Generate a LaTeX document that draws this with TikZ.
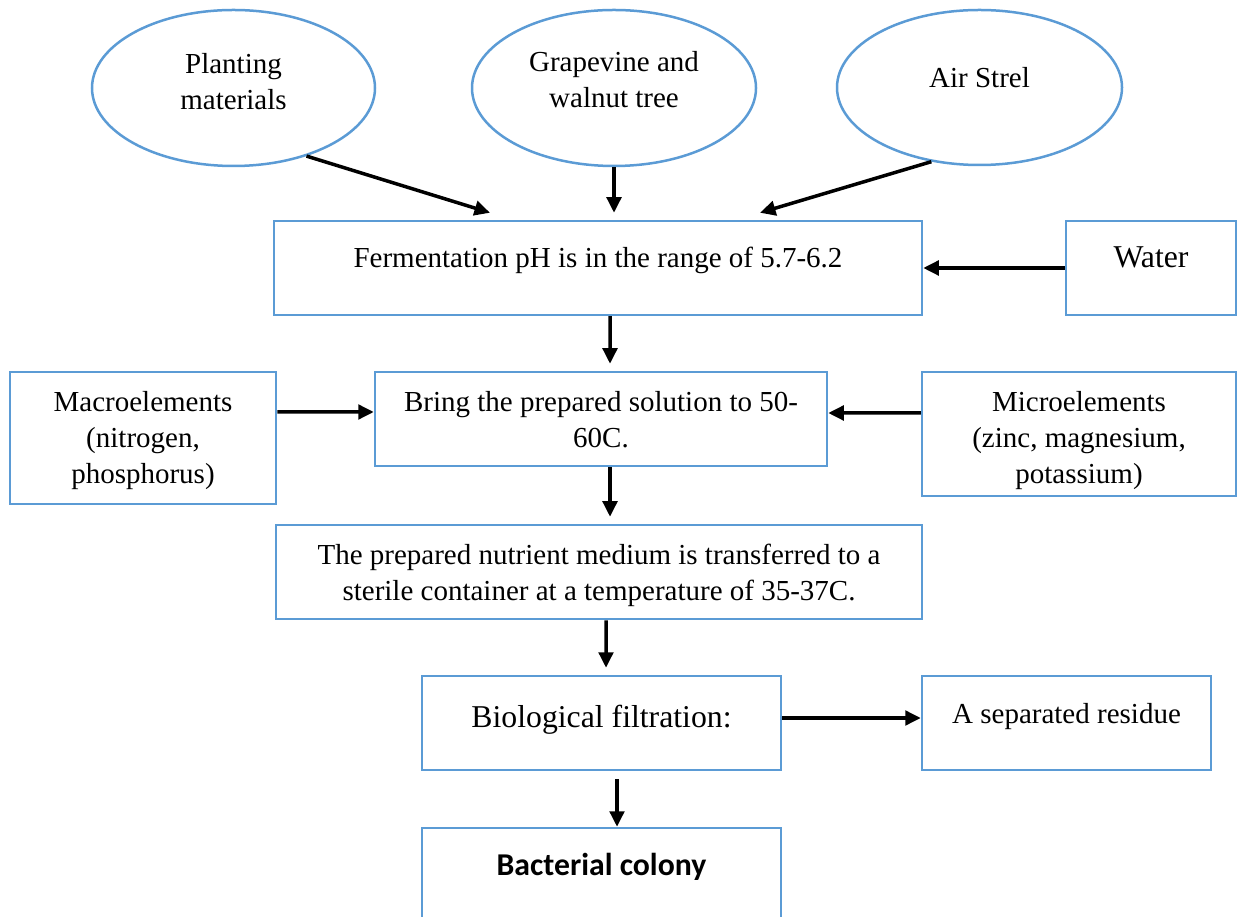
\documentclass[tikz,border=0pt]{standalone}
\usepackage{fontspec}
\setmainfont{Liberation Serif}
\newfontfamily\calibri{Carlito}
\usepackage{xcolor}
\usetikzlibrary{arrows.meta, shapes.geometric}
\definecolor{boxblue}{RGB}{91,155,213}

\begin{document}
\begin{tikzpicture}[x=0.4pt, y=-0.4pt,
  box/.style={draw=boxblue, line width=1pt, align=center, inner sep=0pt, font=\fontsize{11.6}{14.4}\selectfont},
  oval/.style={box, ellipse},
  big/.style={font=\fontsize{12.7}{15}\selectfont},
  oneline/.style={text height=8pt, text depth=8pt},
  arr/.style={-{Triangle[length=6.2pt, width=5.8pt]}, line width=1.4pt}]
\useasboundingbox (0,0) rectangle (1238,917);

\node[oval, text height=22.4pt, text depth=5.1pt, minimum width=113.2pt, minimum height=62.4pt] (plant) at (233.5,88) {Planting\\materials};
\node[oval, text height=22.4pt, text depth=6.7pt, minimum width=113.6pt, minimum height=62.4pt] (grape) at (614,88) {Grapevine and\\walnut tree};
\node[oval, oneline, minimum width=114pt, minimum height=62pt] (air) at (979.5,87.5) {Air Strel};

\node[box, oneline, minimum width=259.2pt, minimum height=37.6pt] (ferm) at (598,268) {Fermentation pH is in the range of 5.7-6.2};
\node[box, big, oneline, minimum width=68pt, minimum height=37.6pt] (water) at (1151,268) {Water};

\node[box, text height=36.8pt, text depth=0.3pt, minimum width=106.4pt, minimum height=52.8pt] (macro) at (143,438) {Macroelements\\(nitrogen,\\phosphorus)};
\node[box, text height=24pt, text depth=1.1pt, minimum width=180.8pt, minimum height=37.6pt] (bring) at (601,419) {Bring the prepared solution to 50-\\60C.};
\node[box, text height=40pt, text depth=0.3pt, minimum width=125.6pt, minimum height=49.6pt] (micro) at (1079,434) {Microelements\\(zinc, magnesium,\\potassium)};

\node[box, text height=24pt, text depth=1.1pt, minimum width=258.4pt, minimum height=37.6pt] (nutr) at (599,572) {The prepared nutrient medium is transferred to a\\sterile container at a temperature of 35-37C.};

\node[box, big, text height=9.6pt, text depth=6pt, minimum width=143.6pt, minimum height=37.6pt] (bio) at (601.5,723) {Biological filtration:};
\node[box, oneline, minimum width=115.6pt, minimum height=37.6pt] (resid) at (1066.5,723) {A separated residue};
\node[box, oneline, font=\calibri\bfseries\fontsize{12.7}{15}\selectfont, minimum width=143.6pt, minimum height=37.6pt] (colony) at (601.5,875) {Bacterial colony};

\draw[arr] (plant.-43) -- ([xshift=-43.2pt, yshift=2.8pt]ferm.north);
\draw[arr, shorten >=2.8pt] (grape.south) -- (grape.south |- ferm.north);
\draw[arr] (air.-123) -- ([xshift=64.8pt, yshift=2.8pt]ferm.north);
\draw[arr] (water.west) -- (ferm.east);
\draw[arr, shorten >=2.8pt] ([xshift=4.8pt]ferm.south) -- ([xshift=3.6pt]bring.north);
\draw[arr] ([yshift=10.4pt]macro.east) -- ([yshift=2.8pt]bring.west);
\draw[arr] ([yshift=8.4pt]micro.west) -- ([yshift=2.4pt]bring.east);
\draw[arr, shorten >=2.8pt] ([xshift=3.6pt]bring.south) -- ([xshift=4.4pt]nutr.north);
\draw[arr, shorten >=2.8pt] ([xshift=2.8pt]nutr.south) -- ([xshift=1.8pt]bio.north);
\draw[arr] ([yshift=2pt]bio.east) -- ([yshift=2pt]resid.west);
\draw[arr, shorten <=3.2pt] ([xshift=6.2pt]bio.south) -- ([xshift=6.2pt]colony.north);
\end{tikzpicture}
\end{document}
